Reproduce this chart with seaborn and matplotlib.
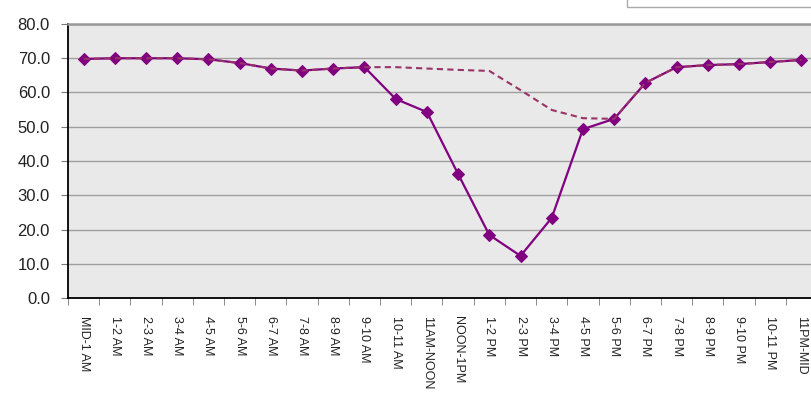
import matplotlib
matplotlib.use("Agg")
import matplotlib.pyplot as plt
import matplotlib.patches as mpatches
import numpy as np
import pandas as pd
import seaborn as sns

hours = [
    "MID-1 AM", "1-2 AM", "2-3 AM", "3-4 AM", "4-5 AM", "5-6 AM", "6-7 AM",
    "7-8 AM", "8-9 AM", "9-10 AM", "10-11 AM", "11AM-NOON", "NOON-1PM",
    "1-2 PM", "2-3 PM", "3-4 PM", "4-5 PM", "5-6 PM", "6-7 PM", "7-8 PM",
    "8-9 PM", "9-10 PM", "10-11 PM", "11PM-MID",
]
observed = [
    69.8, 70.0, 70.0, 70.0, 69.7, 68.6, 67.0, 66.4, 67.0, 67.4, 58.1, 54.3,
    36.2, 18.4, 12.3, 23.4, 49.3, 52.3, 62.8, 67.4, 68.0, 68.3, 68.9, 69.5,
]
typical = [
    69.8, 70.0, 70.0, 70.0, 69.7, 68.6, 67.0, 66.4, 67.0, 67.4, 67.4, 67.0,
    66.6, 66.3, 60.7, 54.9, 52.5, 52.3, 62.8, 67.4, 68.0, 68.3, 68.9, 69.5,
]
yticks = [0, 10, 20, 30, 40, 50, 60, 70, 80]

df = pd.DataFrame({"hour": hours, "observed": observed, "typical": typical})

sns.set_style("white")
plt.rcParams["font.family"] = ["Liberation Sans", "DejaVu Sans"]

fig = plt.figure(figsize=(8.12, 4.01), dpi=100)
ax = fig.add_axes([68 / 812, 103 / 401, 749 / 812, 274 / 401])
ax.set_facecolor("#e9e9e9")

sns.lineplot(data=df, x="hour", y="observed", ax=ax, color="#800080",
             linewidth=1.6, marker="D", markersize=6.5, markeredgecolor="#800080",
             sort=False, zorder=3)
sns.lineplot(data=df, x="hour", y="typical", ax=ax, color="#993366",
             linewidth=1.5, linestyle=(0, (3, 2)), sort=False, zorder=4)

ax.set_xlim(-0.5, len(hours) - 0.5)
ax.set_ylim(0, 80)
ax.set_yticks(yticks)
ax.set_yticklabels([f"{v:.1f}" for v in yticks], fontsize=12, color="#222222")
ax.yaxis.grid(True, color="#a0a0a0", linewidth=1)
ax.set_axisbelow(True)

ax.set_xticks(range(len(hours)))
ax.set_xticklabels(hours, rotation=270, fontsize=9.0, va="top", ha="center",
                   color="#222222")
ax.set_xticks(np.arange(-0.5, len(hours), 1), minor=True)
ax.tick_params(axis="x", which="major", length=0, pad=13)
ax.tick_params(axis="x", which="minor", length=5, color="#777777", direction="out", bottom=True)
ax.tick_params(axis="y", length=5, color="#777777", direction="out", left=True, pad=8)
ax.set_xlabel("")
ax.set_ylabel("")

for side in ["left", "bottom"]:
    ax.spines[side].set_color("black")
    ax.spines[side].set_linewidth(1.3)
ax.spines["top"].set_color("#999999")
ax.spines["top"].set_linewidth(1.8)
ax.spines["right"].set_visible(False)

# legend box mostly cut off at the top edge
fig.patches.append(mpatches.Rectangle((627 / 812, 394 / 401), 0.3, 0.05,
                                      transform=fig.transFigure, fill=False,
                                      edgecolor="#aaaaaa", linewidth=1))

fig.savefig("out.png", dpi=100)
